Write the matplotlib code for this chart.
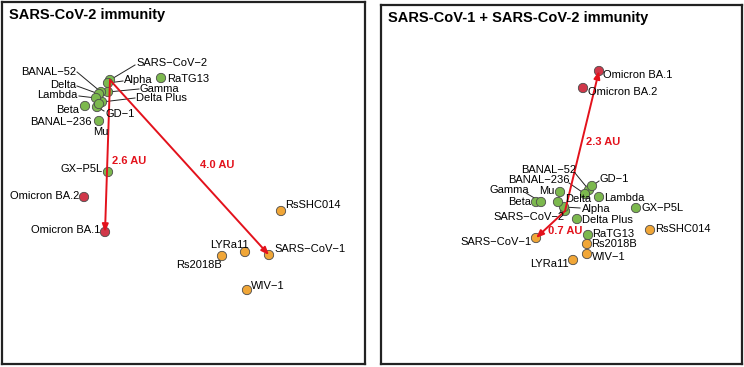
import matplotlib.pyplot as plt

plt.rcParams['font.family'] = ['Liberation Sans', 'DejaVu Sans']

GREEN = '#7cb84e'
RED = '#d0384a'
ORANGE = '#f0a637'
ARROW = '#e3121c'

# --- data: map positions (pixel units) ---
left_names = ['SARS−CoV−2', 'Alpha', 'RaTG13', 'Gamma', 'Delta Plus', 'BANAL−52',
              'Delta', 'Lambda', 'GD−1', 'Beta', 'BANAL−236', 'Mu', 'GX−P5L',
              'Omicron BA.2', 'Omicron BA.1',
              'RsSHC014', 'LYRa11', 'SARS−CoV−1', 'Rs2018B', 'WIV−1']
left_x = [110, 108, 161, 108, 102, 101, 99, 96, 97, 85, 99, 99, 108,
          84, 105, 281, 245, 269, 222, 247]
left_y = [80, 83, 78, 92, 102, 92, 94, 98, 107, 106, 104, 121, 172,
          197, 232, 211, 252, 255, 256, 290]
left_group = ['g'] * 13 + ['r'] * 2 + ['o'] * 5

right_names = ['Omicron BA.1', 'Omicron BA.2', 'SARS−CoV−2', 'Alpha', 'Delta', 'Mu',
               'Beta', 'Gamma', 'BANAL−52', 'BANAL−236', 'GD−1', 'Lambda', 'GX−P5L',
               'Delta Plus', 'RaTG13', 'Rs2018B', 'WIV−1', 'LYRa11', 'SARS−CoV−1',
               'RsSHC014']
right_x = [599, 583, 565, 564, 558, 560, 536, 541, 589, 585, 592, 599, 636,
           577, 588, 587, 587, 573, 536, 650]
right_y = [71, 88, 211, 207, 202, 192, 202, 202, 190, 194, 186, 197, 208,
           219, 235, 244, 254, 260, 238, 230]
right_group = ['r', 'r'] + ['g'] * 13 + ['o'] * 5

# arrows: (from, to, distance label)
left_arrows = [('SARS−CoV−2', 'Omicron BA.1', '2.6 AU'),
               ('SARS−CoV−2', 'SARS−CoV−1', '4.0 AU')]
right_arrows = [('SARS−CoV−2', 'Omicron BA.1', '2.3 AU'),
                ('SARS−CoV−2', 'SARS−CoV−1', '0.7 AU')]

# label layout: name -> (x, y, ha, leader start or None)
left_labels = {
    'SARS−CoV−2': (136, 63, 'left', (135, 65)),
    'Alpha': (124, 80, 'left', (123, 81)),
    'RaTG13': (167, 79, 'left', None),
    'Gamma': (140, 89, 'left', (139, 89)),
    'Delta Plus': (136, 98, 'left', (135, 98)),
    'BANAL−52': (76, 72, 'right', (77, 72)),
    'Delta': (76, 85, 'right', (77, 86)),
    'Lambda': (78, 95, 'right', (79, 96)),
    'GD−1': (105, 114, 'left', (104, 111)),
    'Beta': (79, 110, 'right', None),
    'BANAL−236': (92, 122, 'right', None),
    'Mu': (101, 132, 'center', None),
    'GX−P5L': (103, 169, 'right', None),
    'Omicron BA.2': (79, 196, 'right', None),
    'Omicron BA.1': (100, 230, 'right', None),
    'RsSHC014': (285, 205, 'left', None),
    'LYRa11': (229, 245, 'center', None),
    'SARS−CoV−1': (274, 249, 'left', None),
    'Rs2018B': (199, 265, 'center', None),
    'WIV−1': (251, 286, 'left', None),
}
right_labels = {
    'Omicron BA.1': (603, 75, 'left', None),
    'Omicron BA.2': (588, 92, 'left', None),
    'BANAL−52': (576, 170, 'right', (575, 173)),
    'BANAL−236': (570, 180, 'right', (569, 183)),
    'GD−1': (600, 179, 'left', (599, 181)),
    'Gamma': (529, 190, 'right', (526, 193)),
    'Mu': (555, 191, 'right', None),
    'Beta': (531, 202, 'right', None),
    'Delta': (565, 199, 'left', None),
    'Lambda': (604, 198, 'left', None),
    'Alpha': (582, 209, 'left', (580, 208)),
    'GX−P5L': (641, 208, 'left', None),
    'SARS−CoV−2': (565, 217, 'right', None),
    'Delta Plus': (582, 220, 'left', None),
    'RsSHC014': (655, 229, 'left', None),
    'SARS−CoV−1': (532, 242, 'right', None),
    'RaTG13': (592, 234, 'left', None),
    'Rs2018B': (591, 244, 'left', None),
    'WIV−1': (592, 257, 'left', None),
    'LYRa11': (569, 264, 'right', None),
}
left_au_pos = {'2.6 AU': (129, 161), '4.0 AU': (217, 165)}
right_au_pos = {'2.3 AU': (603, 142), '0.7 AU': (565, 231)}

colors = {'g': GREEN, 'r': RED, 'o': ORANGE}

W, H = 744, 367
fig = plt.figure(figsize=(7.44, 3.67), dpi=100)


def panel(box, title, names, xs, ys, groups, labels, arrows, au_pos):
    x0, y0, x1, y1 = box
    ax = fig.add_axes([x0 / W, 1 - y1 / H, (x1 - x0) / W, (y1 - y0) / H])
    ax.set_xlim(x0, x1)
    ax.set_ylim(y1, y0)
    ax.set_xticks([])
    ax.set_yticks([])
    for s in ax.spines.values():
        s.set_linewidth(1.6)
        s.set_color('#222222')
    ax.text(x0 + 7, y0 + 13, title, fontsize=10.5, fontweight='bold',
            va='center', ha='left')
    pos = dict(zip(names, zip(xs, ys)))
    for name, (tx, ty, ha, lead) in labels.items():
        ax.text(tx, ty, name, fontsize=8, ha=ha, va='center', zorder=4)
        if lead is not None:
            px, py = pos[name]
            ax.plot([lead[0], px], [lead[1], py], color='#222222', lw=0.7, zorder=1)
    ax.scatter(xs, ys, s=45, c=[colors[g] for g in groups],
               edgecolors='#4a4a4a', linewidths=0.6, zorder=2)
    for a, b, lab in arrows:
        ax.annotate('', xy=pos[b], xytext=pos[a],
                    arrowprops=dict(arrowstyle='-|>,head_length=0.45,head_width=0.18',
                                    color=ARROW, lw=1.4, shrinkA=0, shrinkB=0),
                    zorder=3)
        ax.text(*au_pos[lab], lab, color=ARROW, fontsize=8, fontweight='bold',
                ha='center', va='center', zorder=4)


panel((2, 2, 365, 364), 'SARS-CoV-2 immunity', left_names, left_x, left_y,
      left_group, left_labels, left_arrows, left_au_pos)
panel((381, 5, 742, 364), 'SARS-CoV-1 + SARS-CoV-2 immunity', right_names,
      right_x, right_y, right_group, right_labels, right_arrows, right_au_pos)

fig.savefig('out.png', dpi=100)
